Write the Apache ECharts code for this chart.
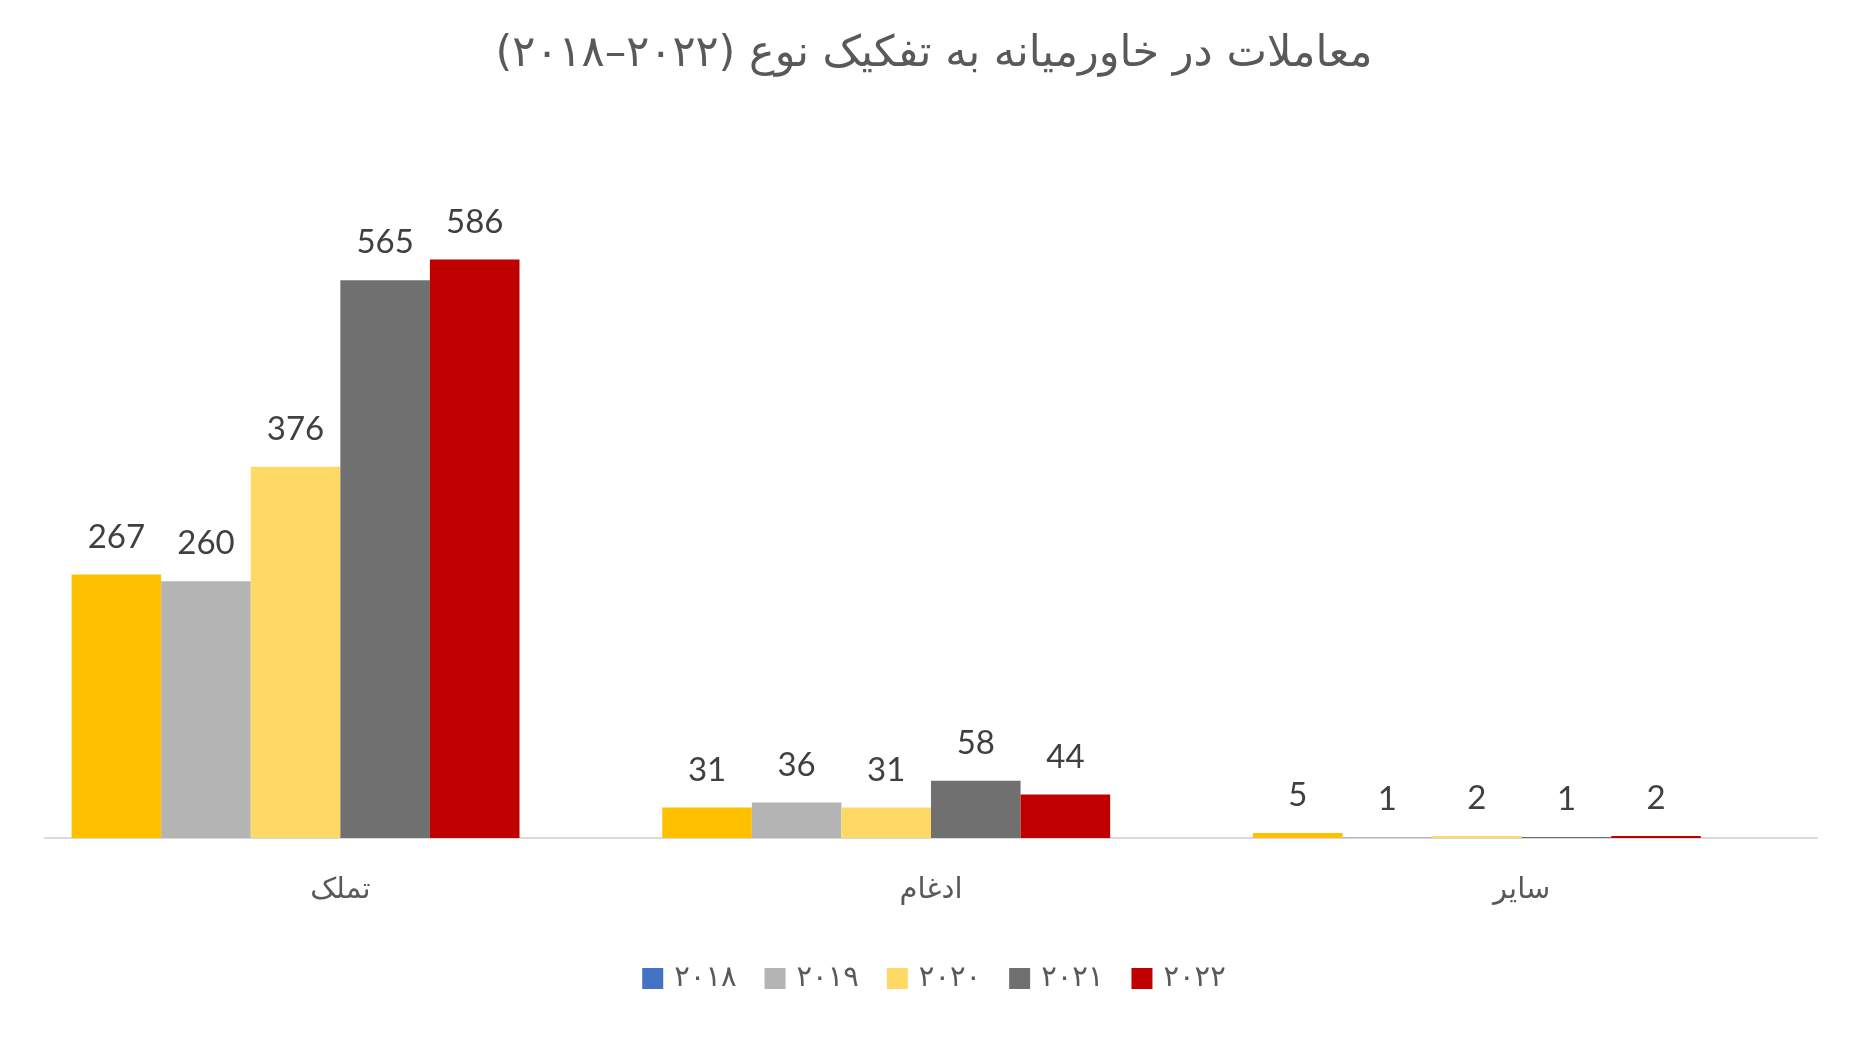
<!DOCTYPE html>
<html>
<head>
<meta charset="utf-8">
<script src="https://cdn.jsdelivr.net/npm/echarts@6/dist/echarts.min.js"></script>
<style>html,body{margin:0;padding:0;background:#fff}#c{width:1868px;height:1041px}</style>
</head>
<body>
<div id="c"></div>
<script>
const titleText = 'معاملات در خاورمیانه به تفکیک نوع (۲۰۲۲–۲۰۱۸)\u200F';
const categories = ['تملک', 'ادغام', 'سایر'];
const seriesNames = ['۲۰۱۸', '۲۰۱۹', '۲۰۲۰', '۲۰۲۱', '۲۰۲۲'];
const v2018 = [267, 31, 5];
const v2019 = [260, 36, 1];
const v2020 = [376, 31, 2];
const v2021 = [565, 58, 1];
const v2022 = [586, 44, 2];
const seriesValues = [v2018, v2019, v2020, v2021, v2022];
const legendColors = ['#4472C4', '#B4B4B4', '#FFD966', '#707070', '#C00000'];
const barColors = ['#FFC000', '#B4B4B4', '#FFD966', '#707070', '#C00000'];

const chart = echarts.init(document.getElementById('c'));
const series = seriesNames.map((name, i) => ({
  name: name,
  type: 'bar',
  barGap: 0,
  barCategoryGap: '9%',
  itemStyle: { color: legendColors[i] },
  data: seriesValues[i].map(v => ({ value: v, itemStyle: { color: barColors[i] } })),
  label: {
    show: true, position: 'top', distance: 21,
    color: '#404040', fontSize: 33, fontFamily: 'Lato, "Open Sans", sans-serif'
  }
}));
// empty sixth slot present in the original layout
series.push({ name: 'empty', type: 'bar', barGap: 0, barCategoryGap: '9%', data: [null, null, null] });

chart.setOption({
  animation: false,
  backgroundColor: '#fff',
  title: {
    text: titleText, left: 'center', top: 28,
    textStyle: { color: '#595959', fontSize: 43, fontWeight: 'normal', fontFamily: '"DejaVu Sans", sans-serif' }
  },
  legend: {
    data: seriesNames, bottom: 43, left: 'center',
    itemWidth: 21, itemHeight: 21, itemGap: 28, icon: 'rect',
    textStyle: { color: '#595959', fontSize: 29, padding: [0, 0, 0, 6], fontFamily: '"DejaVu Sans", sans-serif' }
  },
  grid: { left: 45, right: 51, top: 147, bottom: 203 },
  xAxis: {
    type: 'category', data: categories,
    axisLine: { lineStyle: { color: '#D9D9D9', width: 2 } },
    axisTick: { show: false },
    axisLabel: { color: '#595959', fontSize: 29, margin: 38, fontFamily: '"DejaVu Sans", sans-serif' }
  },
  yAxis: { type: 'value', min: 0, max: 700, show: false, splitLine: { show: false } },
  series: series
});
</script>
</body>
</html>
